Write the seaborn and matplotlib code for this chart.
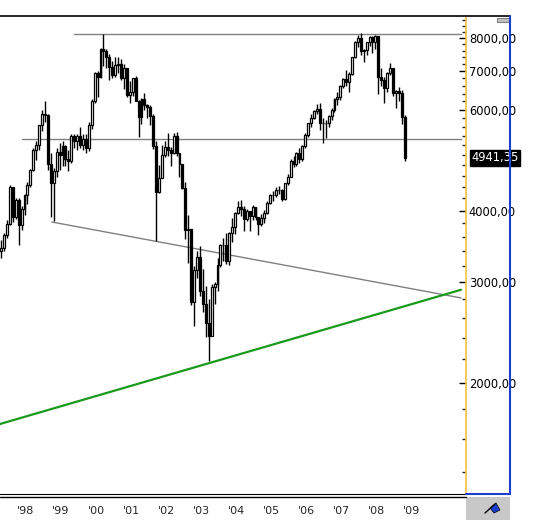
import numpy as np
import matplotlib
matplotlib.use("Agg")
import matplotlib.pyplot as plt
from matplotlib.lines import Line2D
from matplotlib.patches import Rectangle, Polygon
from matplotlib.ticker import FixedLocator, NullFormatter
import matplotlib.transforms as mtransforms
import seaborn as sns

# monthly candles, Apr 1997 .. Oct 2008
start_year, start_month = 1997, 4
closes = [3440, 3630, 3790, 4400, 3900, 4170, 3780, 4030, 4250,
          4440, 4710, 5100, 5200, 5640, 5900, 5870, 4830, 4470, 4680, 5070, 5000,
          5180, 4920, 4890, 5390, 5290, 5390, 5210, 5340, 5150, 5640, 6210, 6960,
          6840, 7640, 7600, 7410, 7110, 6900, 7190, 7200, 6800, 7080, 6370, 6430,
          6800, 6210, 5830, 6260, 6120, 6060, 5860, 5190, 4310, 4560, 5000, 5160,
          5110, 5040, 5400, 5040, 4820, 4380, 3700, 3710, 2770, 3150, 3320, 2890,
          2750, 2550, 2420, 2940, 2980, 3220, 3490, 3480, 3260, 3660, 3750, 3965,
          4060, 4020, 3860, 3985, 3920, 4050, 3895, 3785, 3890, 3960, 4130, 4256,
          4255, 4350, 4350, 4185, 4460, 4586, 4890, 4830, 5045, 4930, 5190, 5408,
          5675, 5800, 5970, 6010, 5690, 5680, 5680, 5860, 6000, 6270, 6310, 6597,
          6790, 6715, 6917, 7408, 7883, 8007, 7584, 7638, 7862, 8019, 7871, 8067,
          6852, 6748, 6535, 6949, 7097, 6418, 6479, 6422, 5831, 4941.35]
highs = [3550, 3650, 3850, 4440, 4400, 4210, 4200, 4080, 4280,
         4480, 4720, 5150, 5290, 5650, 6000, 6220, 5900, 5050, 4750, 5150, 5250,
         5300, 5200, 5100, 5450, 5450, 5450, 5600, 5450, 5450, 5700, 6250, 6980,
         7000, 7700, 8140, 7650, 7500, 7280, 7400, 7400, 7340, 7200, 7100, 6740,
         6800, 6880, 6230, 6290, 6420, 6140, 6110, 5900, 5300, 4800, 5200, 5300,
         5460, 5160, 5470, 5480, 5050, 4800, 4480, 3930, 3720, 3200, 3400, 3476,
         3160, 2950, 2800, 2980, 3000, 3300, 3500, 3580, 3660, 3670, 3880, 3970,
         4160, 4170, 4080, 4020, 3980, 4090, 4060, 3850, 3940, 4010, 4150, 4270,
         4330, 4400, 4420, 4370, 4470, 4630, 4920, 4990, 5060, 5150, 5200, 5460,
         5680, 5890, 6000, 6140, 6160, 5800, 5760, 5870, 6030, 6290, 6440, 6630,
         6810, 7040, 6970, 7420, 7900, 8100, 8150, 7650, 7870, 8050, 8070, 8100,
         8000, 7100, 6830, 6980, 7230, 7100, 6500, 6580, 6500, 5880]
lows = [3300, 3400, 3580, 3780, 3820, 3860, 3480, 3700, 3930,
        4100, 4400, 4680, 4900, 5100, 5500, 5700, 4700, 3900, 3830, 4580, 4700,
        4790, 4780, 4680, 4850, 5150, 5100, 5150, 5100, 5050, 5080, 5550, 6150,
        6320, 6800, 7150, 7100, 6750, 6800, 6850, 6950, 6750, 6520, 6300, 6170,
        6350, 6200, 5370, 5670, 6000, 5800, 5640, 5120, 3540, 4290, 4550, 4960,
        4980, 4780, 5030, 4980, 4570, 4370, 3570, 3240, 2740, 2520, 3050, 2840,
        2660, 2410, 2190, 2500, 2750, 2900, 3190, 3260, 3230, 3220, 3530, 3640,
        3950, 3920, 3690, 3840, 3690, 3850, 3850, 3620, 3760, 3800, 3940, 4100,
        4150, 4230, 4270, 4150, 4170, 4430, 4580, 4770, 4780, 4850, 4880, 5140,
        5370, 5590, 5770, 5890, 5520, 5240, 5360, 5600, 5760, 5950, 6110, 6240,
        6550, 6590, 6440, 6900, 7380, 7720, 7480, 7270, 7470, 7740, 7520, 7670,
        6380, 6600, 6170, 6450, 6900, 6350, 6040, 6210, 5660, 4880]
first_open = 3400
opens = [first_open] + closes[:-1]

# drawn lines (year, value)
top_line = ([1999.37, 2010.4], [8130, 8130])
mid_line = ([1997.89, 2010.4], [5330, 5330])
diag_line = ([1998.74, 2010.4], [3820, 2816])
green_line = ([1997.26, 2010.4], [1697, 2910])

price_ticks = [2000, 3000, 4000, 6000, 7000, 8000]
year_ticks = list(range(1998, 2010))
year_labels = ["'%02d" % (y % 100) for y in year_ticks]
last_price = 4941.35

sns.set_style("white")
W, H = 535, 520
fig = plt.figure(figsize=(W / 100, H / 100), dpi=100)
ax = fig.add_axes([0, 26 / H, 466 / W, (494 - 16) / H])

xs = [start_year + (start_month - 1 + i + 0.5) / 12 for i in range(len(closes))]
ax.vlines(xs, lows, highs, color="black", lw=1, zorder=2)
for x, o, c in zip(xs, opens, closes):
    lo, hi = min(o, c), max(o, c)
    ax.bar(x, hi - lo, bottom=lo, width=0.055, color="white" if c >= o else "black",
           edgecolor="black", linewidth=0.9, zorder=3)

sns.lineplot(x=top_line[0], y=top_line[1], ax=ax, color="#808080", lw=1, zorder=1)
sns.lineplot(x=mid_line[0], y=mid_line[1], ax=ax, color="#808080", lw=1, zorder=1)
sns.lineplot(x=diag_line[0], y=diag_line[1], ax=ax, color="#808080", lw=1, zorder=1)
sns.lineplot(x=green_line[0], y=green_line[1], ax=ax, color="#1a9a1a", lw=1.6, zorder=4)

ax.set_yscale("log")
ax.set_ylim(1281, 8740)
ax.set_xlim(1997.26, 2010.54)

ax.yaxis.tick_right()
ax.yaxis.set_major_locator(FixedLocator(price_ticks))
ax.set_yticklabels(["%d,00" % p for p in price_ticks])
ax.yaxis.set_minor_locator(FixedLocator(list(range(1400, 8800, 200))))
ax.yaxis.set_minor_formatter(NullFormatter())
ax.tick_params(axis="y", which="major", direction="in", length=5, width=1, pad=2,
               labelsize=8.3, colors="black")
ax.tick_params(axis="y", which="minor", direction="in", length=3, width=1)
ax.set_xticks(year_ticks)
ax.set_xticklabels(year_labels)
ax.tick_params(axis="x", direction="out", length=3, width=1, pad=6, labelsize=8)
ax.xaxis.set_minor_locator(FixedLocator([]))

for s in ["top", "left"]:
    ax.spines[s].set_visible(False)
ax.spines["right"].set_color("#f5c242")
ax.spines["right"].set_linewidth(1.2)
ax.spines["bottom"].set_color("black")

# current price label
trans = mtransforms.blended_transform_factory(ax.transAxes, ax.transData)
ax.text(1.012, last_price, "4941,35", transform=trans, fontsize=8.3, color="white",
        va="center", ha="left", zorder=10,
        bbox=dict(boxstyle="square,pad=0.1", fc="black", ec="black"))
ax.grid(False)

def px(x, y):
    return x / W, 1 - y / H

# frame lines in pixel coords
fig.add_artist(Line2D([0, 510 / W], [1 - 16 / H] * 2, color="black", lw=1.2))
fig.add_artist(Line2D([0, 466 / W], [1 - 497 / H] * 2, color="black", lw=1))
fig.add_artist(Line2D([510 / W] * 2, [1 - 16 / H, 1 - 494 / H], color="#1a3fd0", lw=1.5))
fig.add_artist(Line2D([466 / W, 510 / W], [1 - 494 / H] * 2, color="#1a3fd0", lw=1.5))
fig.add_artist(Rectangle(px(466, 520), 44 / W, 23 / H, transform=fig.transFigure,
                         fc="#c8c8c8", ec="none"))
fig.add_artist(Rectangle(px(497, 22), 13 / W, 4 / H, transform=fig.transFigure,
                         fc="#c0c0c0", ec="#808080", lw=0.8))
fig.add_artist(Line2D([485 / W, 495 / W], [1 - 513 / H, 1 - 504 / H], color="black", lw=1))
fig.add_artist(Polygon([px(490, 508), px(496, 503), px(500, 510), px(494, 513)],
                       closed=True, transform=fig.transFigure, fc="#1a3fd0", ec="black", lw=0.5))

fig.savefig("out.png", dpi=100)
